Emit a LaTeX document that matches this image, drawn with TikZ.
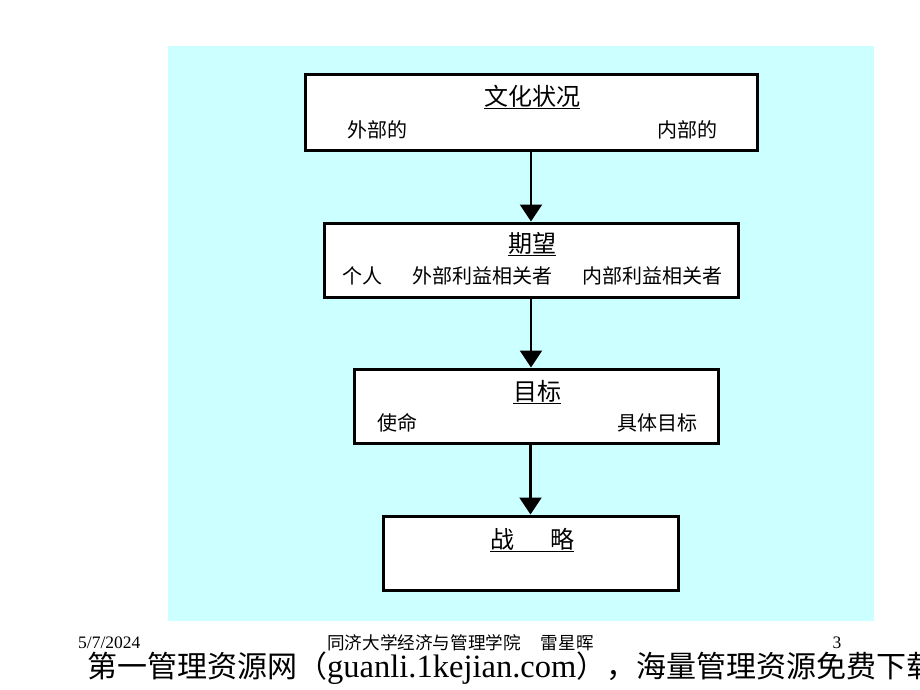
\documentclass[tikz,border=0pt]{standalone}
\usepackage{fontspec}
\setmainfont{Liberation Serif}
\newfontfamily\cjk{Noto Sans CJK SC}
\usetikzlibrary{arrows.meta}

\definecolor{panelcyan}{RGB}{204,255,255}

\tikzset{
	box/.style={draw, line width=3pt, fill=white, inner sep=0pt},
	boxtitle/.style={font=\cjk\fontsize{24}{28}\selectfont, inner sep=0pt},
	boxitem/.style={font=\cjk\fontsize{20}{23}\selectfont, inner sep=0pt},
	flow/.style={line width=2.5pt, -{Triangle[width=22pt,length=17pt]}},
	footnote/.style={inner sep=0pt},
}

\begin{document}
\begin{tikzpicture}[x=1pt, y=-1pt]
	\useasboundingbox (0,0) rectangle (920,690);
	\fill [panelcyan] (168,46) rectangle (874,621);

	% boxes
	\node [box, minimum width=452pt, minimum height=75pt] (culture) at (531,112.5) {};
	\node [box, minimum width=414pt, minimum height=74pt] (expect) at (531,260) {};
	\node [box, minimum width=364pt, minimum height=74pt] (goal) at (536,406) {};
	\node [box, minimum width=295pt, minimum height=74pt] (strategy) at (530.5,553) {};

	% texts
	\node [boxtitle] (cultureT) at (532,97) {\underline{文化状况}};
	\node [boxitem] (outer) at (377,130) {外部的};
	\node [boxitem] (inner) at (687,130) {内部的};

	\node [boxtitle] (expectT) at (532,244) {\underline{期望}};
	\node [boxitem] (person) at (362,276) {个人};
	\node [boxitem] (outside) at (482,276) {外部利益相关者};
	\node [boxitem] (inside) at (652,276) {内部利益相关者};

	\node [boxtitle] (goalT) at (537,392) {\underline{目标}};
	\node [boxitem] (mission) at (397,423) {使命};
	\node [boxitem] (target) at (657,423) {具体目标};

	\node [boxtitle] (strategyT) at (532,540) {\underline{战\hspace{1.5em}略}};

	% arrows
	\draw [flow] (culture.south) -- (culture.south |- expect.north);
	\draw [flow] (expect.south) -- (expect.south |- goal.north);
	\draw [flow] (strategy.north |- goal.south) -- (strategy.north);

	% footer
	\node [footnote, anchor=west, font=\fontsize{17.5}{19}\selectfont] (date) at (78,643) {5/7/2024};
	\node [footnote, font=\cjk\fontsize{17.6}{20}\selectfont] (school) at (460.5,643) {同济大学经济与管理学院\hspace{20pt}雷星晖};
	\node [footnote, font=\fontsize{17.5}{19}\selectfont] (page) at (837,643) {3};
	\node [footnote, anchor=west, font=\cjk\fontsize{30}{32}\selectfont] (site) at (87,668) {第一管理资源网（{\rmfamily\fontsize{32.5}{34}\selectfont guanli.1kejian.com}），海量管理资源免费下载};
\end{tikzpicture}
\end{document}
